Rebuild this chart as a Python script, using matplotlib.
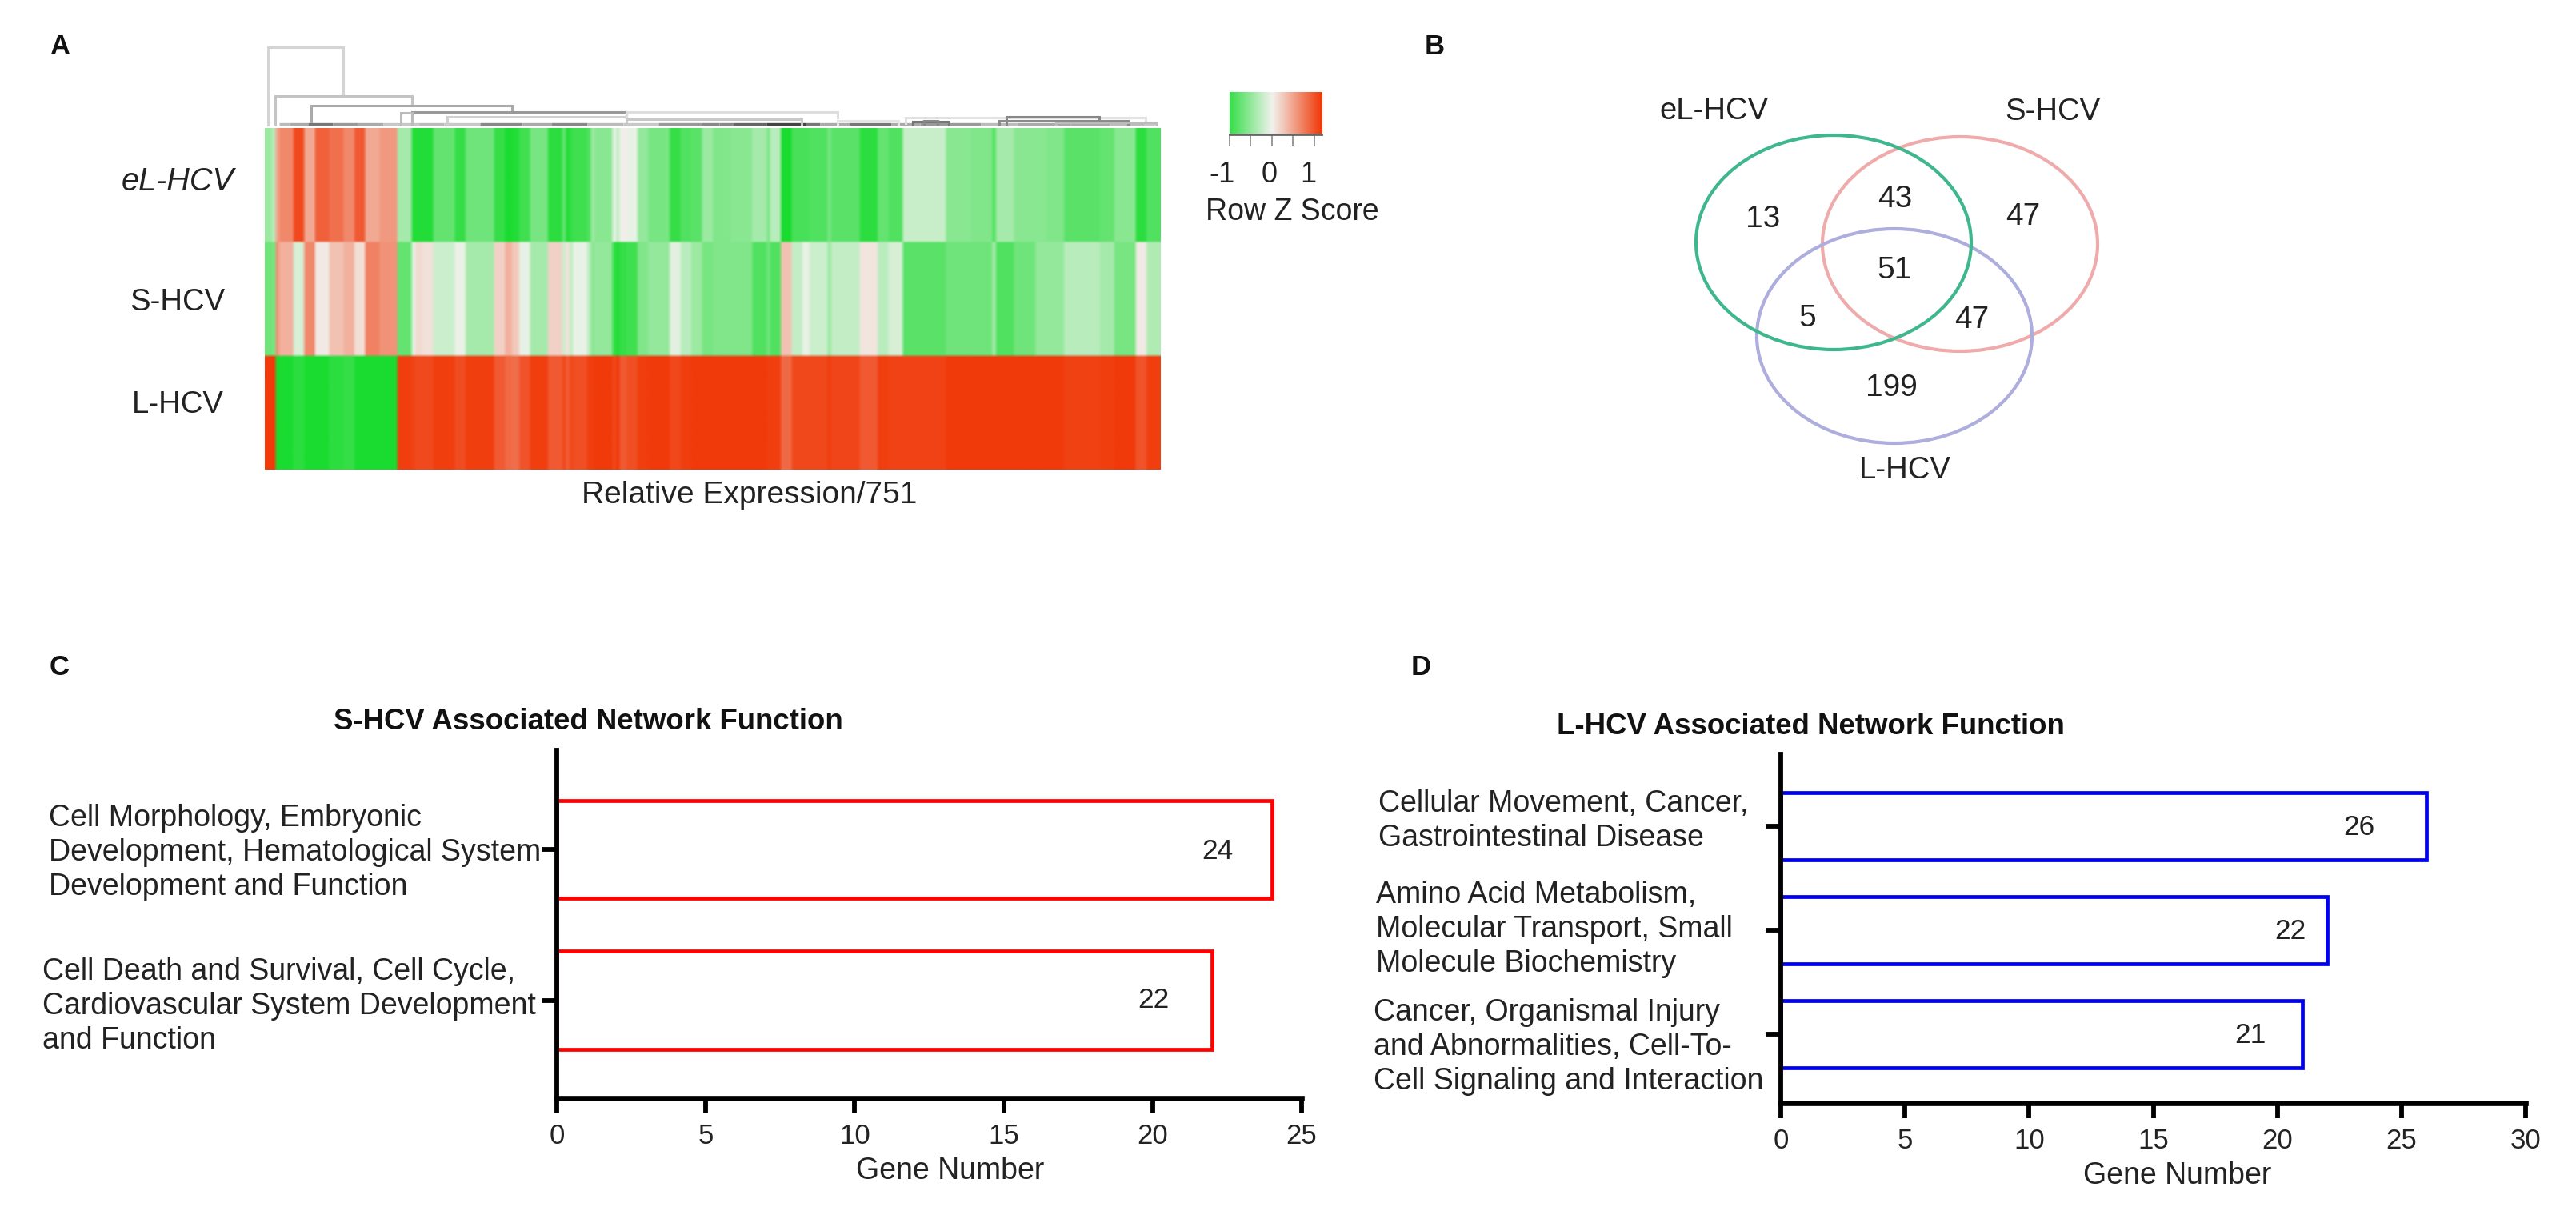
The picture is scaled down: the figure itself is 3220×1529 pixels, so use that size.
import numpy as np
from matplotlib import pyplot as plt
from matplotlib.colors import LinearSegmentedColormap
from matplotlib.patches import Ellipse
from matplotlib.transforms import ScaledTranslation

plt.rcParams['font.family'] = ['Liberation Sans', 'DejaVu Sans']

WIDTH = 3220
HEIGHT = 1529

# heatmap: each entry is one stretch of neighbouring columns
blockCounts = [2, 1, 1, 4, 3, 3, 4, 4, 3, 3, 4, 5, 4, 1, 2, 3, 6, 3, 8,
               3, 2, 2, 3, 5, 4, 1, 1, 1, 4, 1, 1, 5, 1, 1, 2, 3, 3, 6, 3, 3, 3, 3, 2,
               3, 6, 4, 1, 3, 3, 3, 2, 5, 1, 8, 5, 3, 4, 12,
               7, 6, 1, 5, 6, 3, 5, 10, 4, 6, 3, 4]
eLValues = [-.45, -.3, .5, .65, 1.05, .45, .9, .8, .65, .95, .45, .55, -.4, -1.1, -1.1, -1.1, -.75, -1.0, -.7,
            -1.0, -1.15, -1.1, -.95, -.65, -1.05, -.75, -1.1, -1.0, -.95, -.85, -.45, -.55, -.05, -.25, .02, -.05, -.5, -.65, -1.0, -.85, -.8, -.45, -.6,
            -.6, -.55, -.4, -.6, -.3, -1.15, -.9, -.9, -.85, -.65, -.8, -1.05, -.75, -.85, -.22,
            -.55, -.6, -.85, -.4, -.55, -.55, -.6, -.8, -.75, -.55, -1.05, -.85]
sValues = [-.7, -.65, .6, .4, -.15, .65, .05, .3, .4, .12, .7, .6, -.75, -.05, .15, .1, -.2, -.03, -.4,
           .2, .4, .25, -.05, -.4, .2, -.2, .1, -.25, -.05, -.3, -.55, -.5, -1.0, -1.1, -1.0, -.95, -.6, -.5, -.08, -.3, -.45, -.65, -.6,
           -.6, -.6, -.85, -.7, -.85, .3, -.25, -.05, -.2, -.45, -.25, .08, -.3, -.15, -.8,
           -.7, -.7, -.4, -.85, -.7, -.5, -.5, -.3, -.4, -.65, .05, -.35]
lValues = [1.15, 1.15, -1.15, -1.15, -1.05, -1.15, -1.15, -1.05, -1.0, -1.15, -1.15, -1.15, 1.12, 1.08, 1.05, 1.05, 1.12, 1.03, 1.12,
           .95, .85, .82, .98, 1.12, .95, 1.06, .92, 1.06, 1.02, 1.12, 1.12, 1.15, 1.06, 1.15, .95, 1.02, 1.12, 1.15, 1.06, 1.12, 1.15, 1.15, 1.15,
           1.15, 1.15, 1.15, 1.12, 1.12, .85, 1.06, 1.06, 1.06, 1.12, 1.07, .95, 1.12, 1.09, 1.09,
           1.15, 1.15, 1.15, 1.15, 1.15, 1.15, 1.15, 1.1, 1.12, 1.15, .98, 1.12]
rowNames = ['eL-HCV', 'S-HCV', 'L-HCV']

# dendrogram links in column units: left, right, height, left leg end, right leg end, grey
linkLeft = [1, 3, 13, 41, 38, 51, 101, 101, 160, 179, 207, 205, 221, 181, 184, 245]
linkRight = [22, 41, 69, 101, 41, 101, 160, 150, 177, 246, 233, 241, 249, 191, 188, 249]
linkTop = [99, 38, 26, 18, 17, 12, 18, 9, 7, 11, 12, 7, 5, 6, 7, 5]
linkLeftEnd = [0, 3, 6, 3, 2, 4, 12, 3, 3, 4, 3, 3, 2, 2, 3, 2]
linkRightEnd = [38, 26, 18, 11, 2, 4, 11, 3, 3, 5, 6, 3, 2, 2, 3, 2]
linkGrey = ['#d4d4d4', '#c4c4c4', '#aaaaaa', '#999999', '#bbbbbb', '#cfcfcf', '#dddddd', '#c8c8c8',
            '#e4e4e4', '#e2e2e2', '#888888', '#8a8a8a', '#bbbbbb', '#777777', '#888888', '#bbbbbb']
leafStart = [4, 7, 12, 19, 26, 33, 38, 43, 50, 60, 72, 80, 90, 100, 110, 122, 127, 131, 140, 151, 155, 163, 175, 183, 200, 210, 225, 236, 245]
leafEnd = [7, 12, 19, 26, 33, 38, 43, 50, 60, 72, 80, 90, 100, 110, 122, 127, 131, 140, 151, 155, 163, 175, 183, 200, 210, 225, 236, 245, 249]
leafGrey = ['#bbbbbb', '#aaaaaa', '#777777', '#999999', '#aaaaaa', '#c8c8c8', '#c8c8c8', '#bbbbbb', '#c8c8c8',
            '#888888', '#aaaaaa', '#888888', '#bbbbbb', '#c8c8c8', '#999999', '#888888', '#888888', '#666666',
            '#444444', '#777777', '#aaaaaa', '#777777', '#aaaaaa', '#999999', '#bbbbbb', '#aaaaaa', '#aaaaaa', '#bbbbbb', '#c8c8c8']

colorbarTicks = [-1, -.5, 0, .5, 1]
colorbarLabels = ['-1', '0', '1']

# venn
vennNames = ['eL-HCV', 'S-HCV', 'L-HCV']
vennColors = ['#3fb78d', '#efabab', '#adadde']
vennCounts = [13, 43, 47, 51, 5, 47, 199]

# bars
sCategories = ['Cell Morphology, Embryonic\nDevelopment, Hematological System\nDevelopment and Function',
               'Cell Death and Survival, Cell Cycle,\nCardiovascular System Development\nand Function']
sGenes = [24, 22]
lCategories = ['Cellular Movement, Cancer,\nGastrointestinal Disease',
               'Amino Acid Metabolism,\nMolecular Transport, Small\nMolecule Biochemistry',
               'Cancer, Organismal Injury\nand Abnormalities, Cell-To-\nCell Signaling and Interaction']
lGenes = [26, 22, 21]

heatColors = LinearSegmentedColormap.from_list('heat', ['#1adc30', '#f2f2ee', '#f03a0a'])


def axesAt(fig, left, top, right, bottom):
    return fig.add_axes([left / WIDTH, 1 - bottom / HEIGHT, (right - left) / WIDTH, (bottom - top) / HEIGHT])


def plotHeatmap(fig):
    ax = axesAt(fig, 331, 160, 1450, 587)
    grid = np.array([np.repeat(row, blockCounts) for row in (eLValues, sValues, lValues)])
    grid = np.repeat(grid, 40, axis=0)
    ax.imshow(grid, cmap=heatColors, vmin=-1.15, vmax=1.15, aspect='auto',
              interpolation='bilinear', interpolation_stage='rgba')
    ax.axis('off')


def plotDendrogram(fig):
    ax = axesAt(fig, 331, 58, 1450, 158)
    ax.set_xlim(0, sum(blockCounts))
    ax.set_ylim(0, 100)
    ax.axis('off')
    for i in range(len(leafStart)):
        ax.plot([leafStart[i], leafEnd[i]], [3, 3], color=leafGrey[i], lw=2.4, solid_capstyle='butt')
    for i in range(len(linkLeft)):
        ax.plot([linkLeft[i], linkLeft[i], linkRight[i], linkRight[i]],
                [linkLeftEnd[i], linkTop[i], linkTop[i], linkRightEnd[i]],
                color=linkGrey[i], lw=2.2, solid_joinstyle='miter')


def plotColorbar(fig, canvas):
    ax = axesAt(fig, 1537, 115, 1652, 168)
    ramp = np.linspace(-1, 1.17, 256).reshape(1, -1)
    ax.imshow(ramp, cmap=heatColors, vmin=-1.15, vmax=1.15, aspect='auto', extent=[-1, 1.17, 0, 1])
    ax.set_yticks([])
    ax.set_xticks(colorbarTicks)
    ax.set_xticklabels([])
    ax.tick_params(axis='x', length=11, width=1.4, color='#999999')
    for side in ['top', 'left', 'right']:
        ax.spines[side].set_visible(False)
    ax.spines['bottom'].set_color('#666666')
    ax.spines['bottom'].set_linewidth(2)
    for label, x in zip(colorbarLabels, [1527, 1587, 1635]):
        canvas.text(x, 218, label, ha='center', va='center', fontsize=26, color='#222222')
    canvas.text(1615, 265, 'Row Z Score', ha='center', va='center', fontsize=27, color='#222222')


def plotVenn(canvas):
    centers = [(2292, 303), (2450, 305), (2368, 420)]
    for i in [1, 2, 0]:
        canvas.add_patch(Ellipse(centers[i], 344, 268, fill=False, edgecolor=vennColors[i], lw=3))
    namePlaces = [(2142, 139), (2566, 140), (2381, 588)]
    for name, place in zip(vennNames, namePlaces):
        canvas.text(place[0], place[1], name, ha='center', va='center', fontsize=27.5, color='#222222')
    countPlaces = [(2204, 274), (2369, 249), (2529, 271), (2368, 338), (2259, 398), (2465, 400), (2364, 485)]
    for count, place in zip(vennCounts, countPlaces):
        canvas.text(place[0], place[1], str(count), ha='center', va='center', fontsize=28, color='#222222')


def plotBars(fig, box, categories, genes, xMax, ylims, color, labelPad, labelShift, xlabelAt):
    ax = axesAt(fig, *box)
    rows = np.arange(len(genes))
    ax.barh(rows, genes, height=0.65, facecolor='white', edgecolor=color, linewidth=3.4)
    ax.set_xlim(0, xMax)
    ax.set_ylim(*ylims)
    ax.set_xticks(np.arange(0, xMax + 1, 5))
    ax.set_yticks(rows)
    ax.set_yticklabels(categories, ha='left', fontsize=27, linespacing=1.25, color='#222222')
    ax.tick_params(axis='x', length=14, width=4.2, labelsize=25, pad=8, labelcolor='#222222')
    ax.tick_params(axis='y', length=14, width=4.2, pad=labelPad)
    # the long labels sit a few pixels off their ticks in the original
    for label, shift in zip(ax.get_yticklabels(), labelShift):
        label.set_transform(label.get_transform() + ScaledTranslation(shift[0] / 100, -shift[1] / 100, fig.dpi_scale_trans))
    ax.spines['top'].set_visible(False)
    ax.spines['right'].set_visible(False)
    ax.spines['left'].set_linewidth(4.2)
    ax.spines['bottom'].set_linewidth(4.8)
    ax.set_xlabel('Gene Number', fontsize=27, labelpad=7, color='#222222', x=xlabelAt)
    return ax


fig = plt.figure(figsize=(WIDTH / 100, HEIGHT / 100), dpi=100)
canvas = fig.add_axes([0, 0, 1, 1], zorder=5)
canvas.set_xlim(0, WIDTH)
canvas.set_ylim(HEIGHT, 0)
canvas.axis('off')

plotHeatmap(fig)
plotDendrogram(fig)
plotColorbar(fig, canvas)
plotVenn(canvas)

axC = plotBars(fig, (696, 938, 1627, 1373), sCategories, sGenes, 25, (1.65, -0.66), '#ff0000', 446,
               [(4, -4), (-4, 0)], 0.528)
axD = plotBars(fig, (2226, 943, 3157, 1379), lCategories, lGenes, 30, (2.66, -0.69), '#0000ee', 350,
               [(3, -14), (0, -8), (-3, 8)], 0.532)

for value, x, y in zip(sGenes, [1522, 1442], [1065, 1251]):
    canvas.text(x, y, str(value), ha='center', va='center', fontsize=25.5, color='#222222')
for value, x, y in zip(lGenes, [2949, 2863, 2813], [1034, 1164, 1294]):
    canvas.text(x, y, str(value), ha='center', va='center', fontsize=25.5, color='#222222')

canvas.text(222, 227, rowNames[0], ha='center', va='center', fontsize=28.5, style='italic', color='#222222')
canvas.text(222, 378, rowNames[1], ha='center', va='center', fontsize=27.5, color='#222222')
canvas.text(222, 506, rowNames[2], ha='center', va='center', fontsize=27.5, color='#222222')
canvas.text(937, 619, 'Relative Expression/751', ha='center', va='center', fontsize=28, color='#222222')

canvas.text(735, 903, 'S-HCV Associated Network Function', ha='center', va='center', fontsize=26.4, fontweight='bold', color='#111111')
canvas.text(2263, 909, 'L-HCV Associated Network Function', ha='center', va='center', fontsize=26.4, fontweight='bold', color='#111111')

for letter, x, y in [('A', 75, 58), ('B', 1793, 58), ('C', 74, 834), ('D', 1776, 835)]:
    canvas.text(x, y, letter, ha='center', va='center', fontsize=25, fontweight='bold', color='#111111')

fig.savefig('out.png', dpi=100)
